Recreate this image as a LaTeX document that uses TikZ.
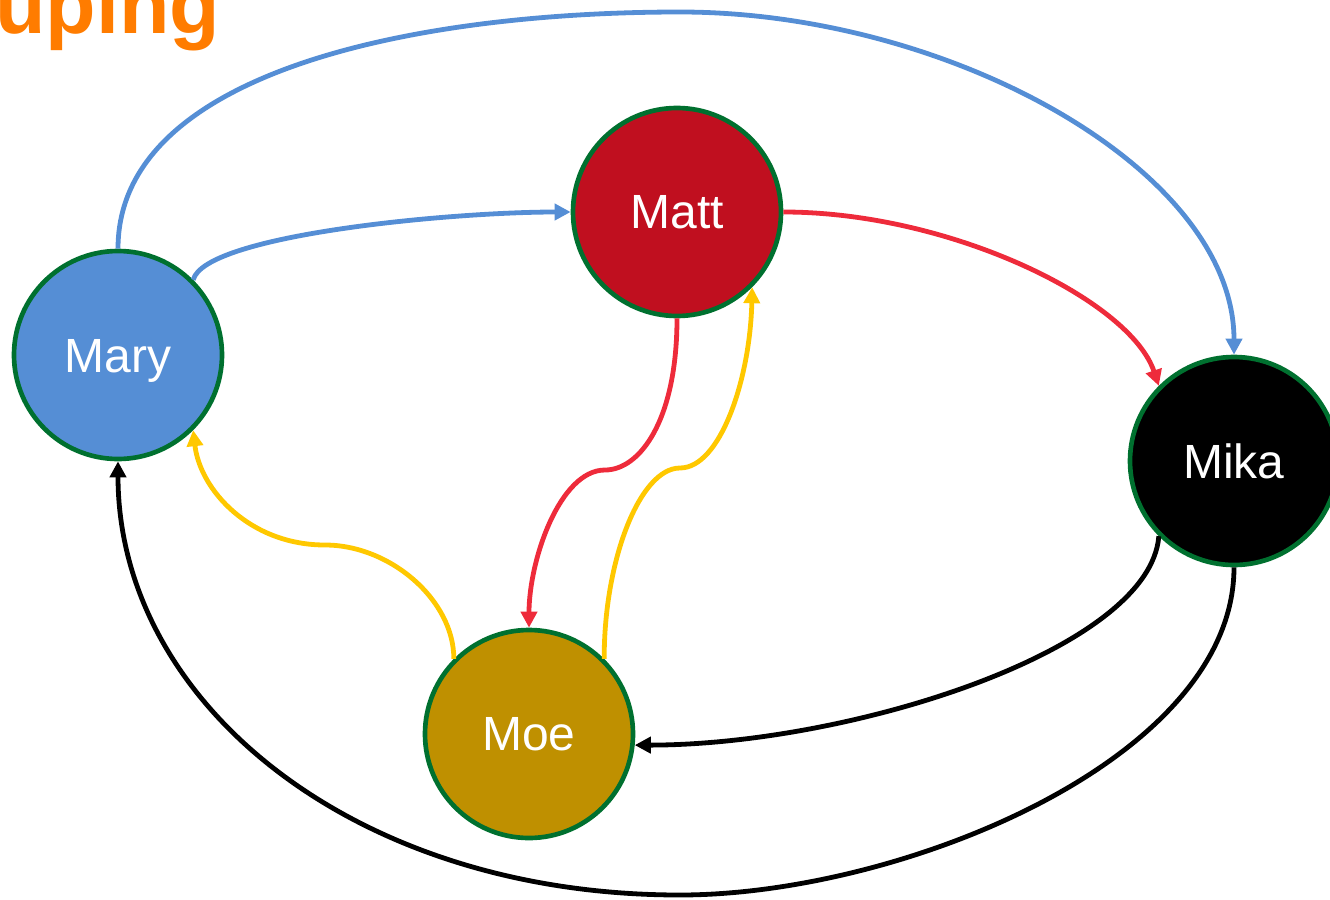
\documentclass[tikz,border=0pt]{standalone}
\usepackage{fontspec}
\setmainfont{Liberation Sans}
\usetikzlibrary{arrows.meta}
\definecolor{ttl}{HTML}{FF7C00}
\definecolor{brd}{HTML}{00702F}
\definecolor{cmary}{HTML}{558ED5}
\definecolor{cmatt}{HTML}{C00F1F}
\definecolor{cmoe}{HTML}{BF9000}
\definecolor{eblue}{HTML}{558ED5}
\definecolor{ered}{HTML}{EE2B3B}
\definecolor{eyel}{HTML}{FFC800}
\tikzset{
  person/.style={circle, draw=brd, line width=3.5pt, minimum size=156pt, inner sep=0pt,
    text=white, font=\fontsize{36}{40}\selectfont},
  conn/.style={line width=3.6pt, -{Triangle[length=12pt,width=12pt]}}
}
\begin{document}
\begin{tikzpicture}[x=0.75pt,y=-0.75pt]
\useasboundingbox (0,0) rectangle (1330,899);
\clip (0,0) rectangle (1330,899);
\node[anchor=base west, inner sep=0pt, text=ttl, font=\fontsize{62}{64}\selectfont\bfseries] (title) at (-5,34) {uping};
\node[person, fill=cmary] (mary) at (118,355) {};
\node[text=white, font=\fontsize{36}{40}\selectfont, anchor=base, inner sep=0pt] (marytext) at (118,372) {Mary};
\node[person, fill=cmatt] (matt) at (677,212) {Matt};
\node[person, fill=black] (mika) at (1234,461) {Mika};
\node[person, fill=cmoe] (moe) at (529,734) {Moe};
% blue
\draw[conn, eblue] (mary.north) .. controls (118,70) and (420,12) .. (680,12)
   .. controls (950,12) and (1234,170) .. (mika.north);
\draw[conn, eblue] (mary.45) .. controls (205,235) and (450,212) .. (matt.west);
% red
\draw[conn, ered] (matt.east) .. controls (950,212) and (1130,300) .. (mika.135);
\draw[conn, ered] (matt.south) .. controls (677,420) and (640,470) .. (605,470)
   .. controls (560,470) and (529,560) .. (moe.north);
% yellow
\draw[conn, eyel] (moe.45) .. controls (604,560) and (640,468) .. (680,468)
   .. controls (720,468) and (750,380) .. (matt.-45);
\draw[conn, eyel] (moe.135) .. controls (454,600) and (390,545) .. (325,545)
   .. controls (250,545) and (200,490) .. (mary.-45);
% black
\draw[conn, black] (mika.-135) .. controls (1150,650) and (850,745) .. (moe.-6);
\draw[conn, black] (mika.south) .. controls (1234,760) and (900,895) .. (680,895)
   .. controls (350,895) and (118,700) .. (mary.south);
\end{tikzpicture}
\end{document}
